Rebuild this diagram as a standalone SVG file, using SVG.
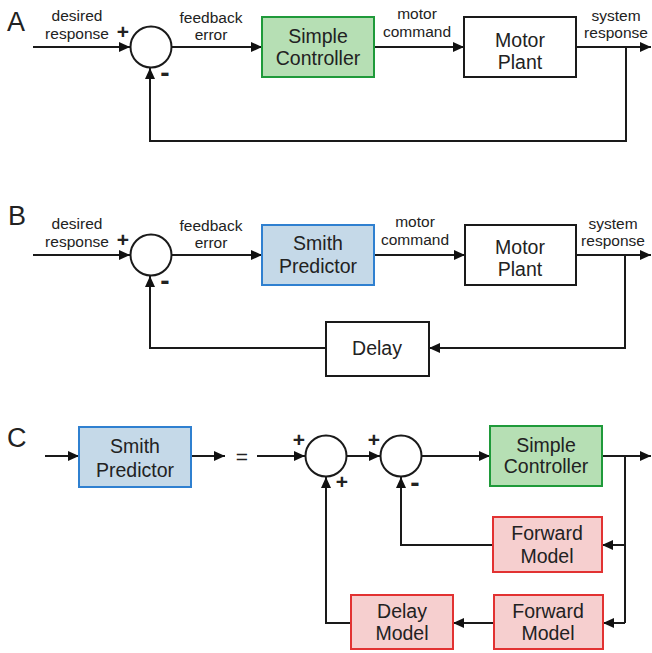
<svg xmlns="http://www.w3.org/2000/svg" width="652" height="653" viewBox="0 0 652 653">
<defs>
<marker id="ah" markerUnits="userSpaceOnUse" markerWidth="12" markerHeight="11" refX="11" refY="5" orient="auto">
<path d="M0,0 L11,5 L0,10 z" fill="#111"/>
</marker>
<style>
.bg{fill:#fff}
.ln{fill:none;stroke:#1a1a1a;stroke-width:2}
.ar{fill:none;stroke:#1a1a1a;stroke-width:2;marker-end:url(#ah)}
.sum{fill:#fff;stroke:#1a1a1a;stroke-width:2}
.white{fill:#fff;stroke:#1a1a1a;stroke-width:2}
.green{fill:#b6dfb4;stroke:#1f9a3a;stroke-width:2}
.blue{fill:#c5d9e8;stroke:#2f80d0;stroke-width:2}
.red{fill:#f6cfcf;stroke:#e23232;stroke-width:2}
text{font-family:"Liberation Sans",Arial,sans-serif;fill:#222}
.lab{font-size:15.5px;text-anchor:middle}
.box{font-size:19.5px;text-anchor:middle}
.pan{font-size:27px}
.sg{font-size:21px;font-weight:bold;text-anchor:middle}
.mn{font-size:28px;font-weight:bold;text-anchor:middle}
</style>
</defs>
<rect class="bg" x="0" y="0" width="652" height="653"/>

<!-- Panel labels -->
<text class="pan" x="7" y="31">A</text>
<text class="pan" x="8" y="225">B</text>
<text class="pan" x="7" y="447">C</text>

<!-- Connectors -->
<g id="connectors">
<!-- A -->
<path class="ar" d="M33,47 H130"/>
<path class="ar" d="M171,47 H262"/>
<path class="ar" d="M374,47 H464"/>
<path class="ar" d="M576,47 H651"/>
<path class="ar" d="M626,47 V141 H150 V68"/>
<!-- B -->
<path class="ar" d="M33,255 H130"/>
<path class="ar" d="M171,255 H262"/>
<path class="ar" d="M374,255 H465"/>
<path class="ar" d="M576,255 H651"/>
<path class="ar" d="M625,255 V348 H429"/>
<path class="ar" d="M326,348 H150 V276"/>
<!-- C -->
<path class="ar" d="M45,456 H79"/>
<path class="ar" d="M191,456 H225"/>
<path class="ar" d="M257,456 H305"/>
<path class="ar" d="M347,456 H380"/>
<path class="ar" d="M421,456 H490"/>
<path class="ar" d="M602,456 H651"/>
<path class="ln" d="M625,456 V623"/>
<path class="ar" d="M625,545 H602"/>
<path class="ar" d="M625,623 H603"/>
<path class="ar" d="M494,623 H453"/>
<path class="ar" d="M493,545 H401 V477"/>
<path class="ar" d="M351,623 H326 V477"/>
</g>

<!-- Edge labels -->
<g id="labels">
<text class="lab" x="77" y="21">desired</text>
<text class="lab" x="77" y="39">response</text>
<text class="lab" x="211" y="23">feedback</text>
<text class="lab" x="211" y="40">error</text>
<text class="lab" x="417" y="19">motor</text>
<text class="lab" x="417" y="37">command</text>
<text class="lab" x="616" y="21">system</text>
<text class="lab" x="616" y="38">response</text>

<text class="lab" x="77" y="229">desired</text>
<text class="lab" x="77" y="247">response</text>
<text class="lab" x="211" y="231">feedback</text>
<text class="lab" x="211" y="248">error</text>
<text class="lab" x="415" y="227">motor</text>
<text class="lab" x="415" y="245">command</text>
<text class="lab" x="613" y="229">system</text>
<text class="lab" x="613" y="246">response</text>

<text x="242" y="464" style="font-size:21px;text-anchor:middle">=</text>
</g>

<!-- A nodes -->
<g id="A-sum">
<circle class="sum" cx="151" cy="47" r="20.5"/>
<text class="sg" x="123" y="39">+</text>
<text class="mn" x="165" y="82">-</text>
</g>
<g id="A-controller">
<rect class="green" x="262" y="17" width="112" height="60"/>
<text class="box" x="318" y="43">Simple</text>
<text class="box" x="318" y="65">Controller</text>
</g>
<g id="A-plant">
<rect class="white" x="464" y="17" width="112" height="60"/>
<text class="box" x="520" y="47">Motor</text>
<text class="box" x="520" y="69">Plant</text>
</g>

<!-- B nodes -->
<g id="B-sum">
<circle class="sum" cx="151" cy="255" r="20.5"/>
<text class="sg" x="123" y="247">+</text>
<text class="mn" x="165" y="290">-</text>
</g>
<g id="B-smith">
<rect class="blue" x="262" y="225" width="112" height="60"/>
<text class="box" x="318" y="250">Smith</text>
<text class="box" x="318" y="273">Predictor</text>
</g>
<g id="B-plant">
<rect class="white" x="465" y="225" width="111" height="60"/>
<text class="box" x="520" y="254">Motor</text>
<text class="box" x="520" y="276">Plant</text>
</g>
<g id="B-delay">
<rect class="white" x="326" y="322" width="103" height="54"/>
<text class="box" x="377" y="355">Delay</text>
</g>

<!-- C nodes -->
<g id="C-smith">
<rect class="blue" x="79" y="427" width="112" height="60"/>
<text class="box" x="135" y="453">Smith</text>
<text class="box" x="135" y="477">Predictor</text>
</g>
<g id="C-sum1">
<circle class="sum" cx="326" cy="456" r="20.5"/>
<text class="sg" x="299" y="447">+</text>
<text class="sg" x="342" y="489">+</text>
</g>
<g id="C-sum2">
<circle class="sum" cx="401" cy="456" r="20.5"/>
<text class="sg" x="374" y="447">+</text>
<text class="mn" x="415" y="492">-</text>
</g>
<g id="C-controller">
<rect class="green" x="490" y="426" width="112" height="60"/>
<text class="box" x="546" y="452">Simple</text>
<text class="box" x="546" y="473">Controller</text>
</g>
<g id="C-forward1">
<rect class="red" x="493" y="517" width="109" height="55"/>
<text class="box" x="547" y="540">Forward</text>
<text class="box" x="547" y="563">Model</text>
</g>
<g id="C-forward2">
<rect class="red" x="494" y="595" width="109" height="54"/>
<text class="box" x="548" y="618">Forward</text>
<text class="box" x="548" y="640">Model</text>
</g>
<g id="C-delaymodel">
<rect class="red" x="351" y="595" width="102" height="54"/>
<text class="box" x="402" y="618">Delay</text>
<text class="box" x="402" y="640">Model</text>
</g>
</svg>
